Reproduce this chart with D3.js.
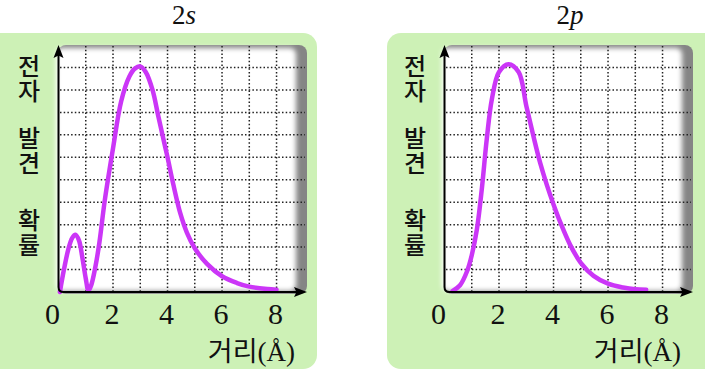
<!DOCTYPE html>
<html>
<head>
<meta charset="utf-8">
<script src="https://cdn.jsdelivr.net/npm/d3@7"></script>
<style>
  html, body { margin: 0; padding: 0; background: #fff; }
  svg { display: block; }
  .serif { font-family: "Liberation Serif", "Times New Roman", serif; }
  .kr { font-family: "Noto Sans CJK KR", sans-serif; }
  .vert { writing-mode: vertical-rl; text-orientation: upright; }
</style>
</head>
<body>
<svg id="chart" width="705" height="370"></svg>
<script>
// distance ticks (Å)
const xTicks = [0, 2, 4, 6, 8];
const gridX = [1, 2, 3, 4, 5, 6, 7, 8];
const gridY = [1, 2, 3, 4, 5, 6, 7, 8, 9, 10];
const yWords = ["전자", "발견", "확률"];

// 2s radial probability
const s2X = [0.05, 0.2, 0.36, 0.5, 0.62, 0.75, 0.88, 1.0, 1.1, 1.2, 1.35, 1.5, 1.7, 2.0, 2.3, 2.6, 2.8, 3.0, 3.2, 3.45, 3.65, 3.85, 4.0, 4.22, 4.47, 4.71, 5.0, 5.45, 6.0, 6.55, 7.0, 7.65, 8.0];
const s2Y = [0, 1.0, 1.9, 2.4, 2.55, 2.3, 1.5, 0.6, 0.05, 0.3, 1.1, 2.2, 4.1, 6.4, 8.5, 9.6, 9.95, 10.05, 9.8, 9.0, 7.9, 6.8, 6.0, 4.75, 3.5, 2.65, 1.95, 1.25, 0.7, 0.4, 0.24, 0.13, 0.1];

// 2p radial probability
const p2X = [0.3, 0.57, 0.82, 1.0, 1.19, 1.37, 1.55, 1.74, 2.0, 2.35, 2.72, 3.0, 3.27, 3.51, 3.76, 4.0, 4.25, 4.61, 5.0, 5.47, 6.0, 6.55, 7.0, 7.4];
const p2Y = [0.05, 0.3, 0.9, 1.64, 2.8, 4.6, 6.8, 8.6, 9.8, 10.15, 9.8, 8.3, 6.9, 5.75, 4.75, 3.9, 3.1, 2.1, 1.3, 0.72, 0.37, 0.2, 0.12, 0.1];

const panels = [
  { ox: 0, title: "2", sub: "s", xs: s2X, ys: s2Y },
  { ox: 386, title: "2", sub: "p", xs: p2X, ys: p2Y }
];

const svg = d3.select("#chart");
const defs = svg.append("defs");
defs.append("filter").attr("id", "soft")
  .attr("x", "-10%").attr("y", "-10%").attr("width", "120%").attr("height", "120%")
  .append("feGaussianBlur").attr("stdDeviation", 2.6);

const x = d3.scaleLinear().domain([0, 9]).range([58.5, 303.8]);
const y = d3.scaleLinear().domain([0, 10]).range([292, 67.5]);

const line = d3.line()
  .x(d => x(d[0]))
  .y(d => y(d[1]))
  .curve(d3.curveCatmullRom.alpha(0.5));

panels.forEach(p => {
  const g = svg.append("g").attr("transform", `translate(${p.ox},0)`);

  // green card
  g.append("rect")
    .attr("x", p.ox === 0 ? -20 : 1).attr("y", 33)
    .attr("width", 337).attr("height", 336)
    .attr("rx", 14)
    .attr("fill", "#cdf1b6");

  // plot box with shaded edges
  g.append("rect")
    .attr("x", 58).attr("y", 45).attr("width", 249).attr("height", 249)
    .attr("rx", 8).attr("fill", "#858585");
  g.append("rect")
    .attr("x", 56).attr("y", 48).attr("width", 240).attr("height", 243)
    .attr("rx", 6).attr("fill", "#fff")
    .attr("filter", "url(#soft)");

  // dotted grid
  g.append("g").selectAll("line").data(gridX).join("line")
    .attr("x1", d => x(d)).attr("x2", d => x(d))
    .attr("y1", 46).attr("y2", 291)
    .attr("stroke", "#222").attr("stroke-width", 1.5)
    .attr("stroke-dasharray", "1.5 2.2");
  g.append("g").selectAll("line").data(gridY).join("line")
    .attr("x1", 60).attr("x2", 305)
    .attr("y1", d => y(d)).attr("y2", d => y(d))
    .attr("stroke", "#222").attr("stroke-width", 1.5)
    .attr("stroke-dasharray", "1.5 2.2");

  // curve
  g.append("path")
    .datum(p.xs.map((v, i) => [v, p.ys[i]]))
    .attr("d", line)
    .attr("fill", "none")
    .attr("stroke", "#cb36f7")
    .attr("stroke-width", 4.5)
    .attr("stroke-linecap", "round")
    .attr("stroke-linejoin", "round");

  // axes with rounded corner and arrows
  const x0 = x(0), y0 = y(0);
  g.append("path")
    .attr("d", `M${x0},55 L${x0},${y0 - 5} Q${x0},${y0} ${x0 + 5},${y0} L298,${y0}`)
    .attr("fill", "none").attr("stroke", "#000").attr("stroke-width", 2);
  g.append("path")
    .attr("d", `M${x0},45 L${x0 + 5},58 L${x0},55.5 L${x0 - 5},58 Z`)
    .attr("fill", "#000");
  g.append("path")
    .attr("d", `M307,${y0} L294,${y0 - 5} L296.5,${y0} L294,${y0 + 5} Z`)
    .attr("fill", "#000");

  // tick labels
  g.append("g").selectAll("text").data(xTicks).join("text")
    .attr("class", "serif")
    .attr("x", d => x(d) + (d === 0 ? -6 : -1))
    .attr("y", 324)
    .attr("text-anchor", "middle")
    .attr("font-size", 30)
    .attr("fill", "#111")
    .text(d => d);

  // axis title
  const xt = g.append("text")
    .attr("x", 295).attr("y", 361)
    .attr("text-anchor", "end")
    .attr("font-size", 27)
    .attr("fill", "#111");
  xt.append("tspan").attr("class", "kr").text("거리");
  xt.append("tspan").attr("class", "serif").text("(Å)");

  // vertical y label, one word per column segment
  const wy = [54, 126, 208];
  g.append("g").selectAll("text").data(yWords).join("text")
    .attr("class", "kr vert")
    .attr("x", 29)
    .attr("y", (d, i) => wy[i])
    .attr("font-weight", 500)
    .attr("font-size", 24)
    .attr("letter-spacing", 1)
    .attr("fill", "#111")
    .text(d => d);

  // panel title
  const tt = g.append("text")
    .attr("class", "serif")
    .attr("x", 184).attr("y", 24)
    .attr("text-anchor", "middle")
    .attr("font-size", 27)
    .attr("fill", "#111");
  tt.append("tspan").text(p.title);
  tt.append("tspan").attr("font-style", "italic").text(p.sub);
});
</script>
</body>
</html>
